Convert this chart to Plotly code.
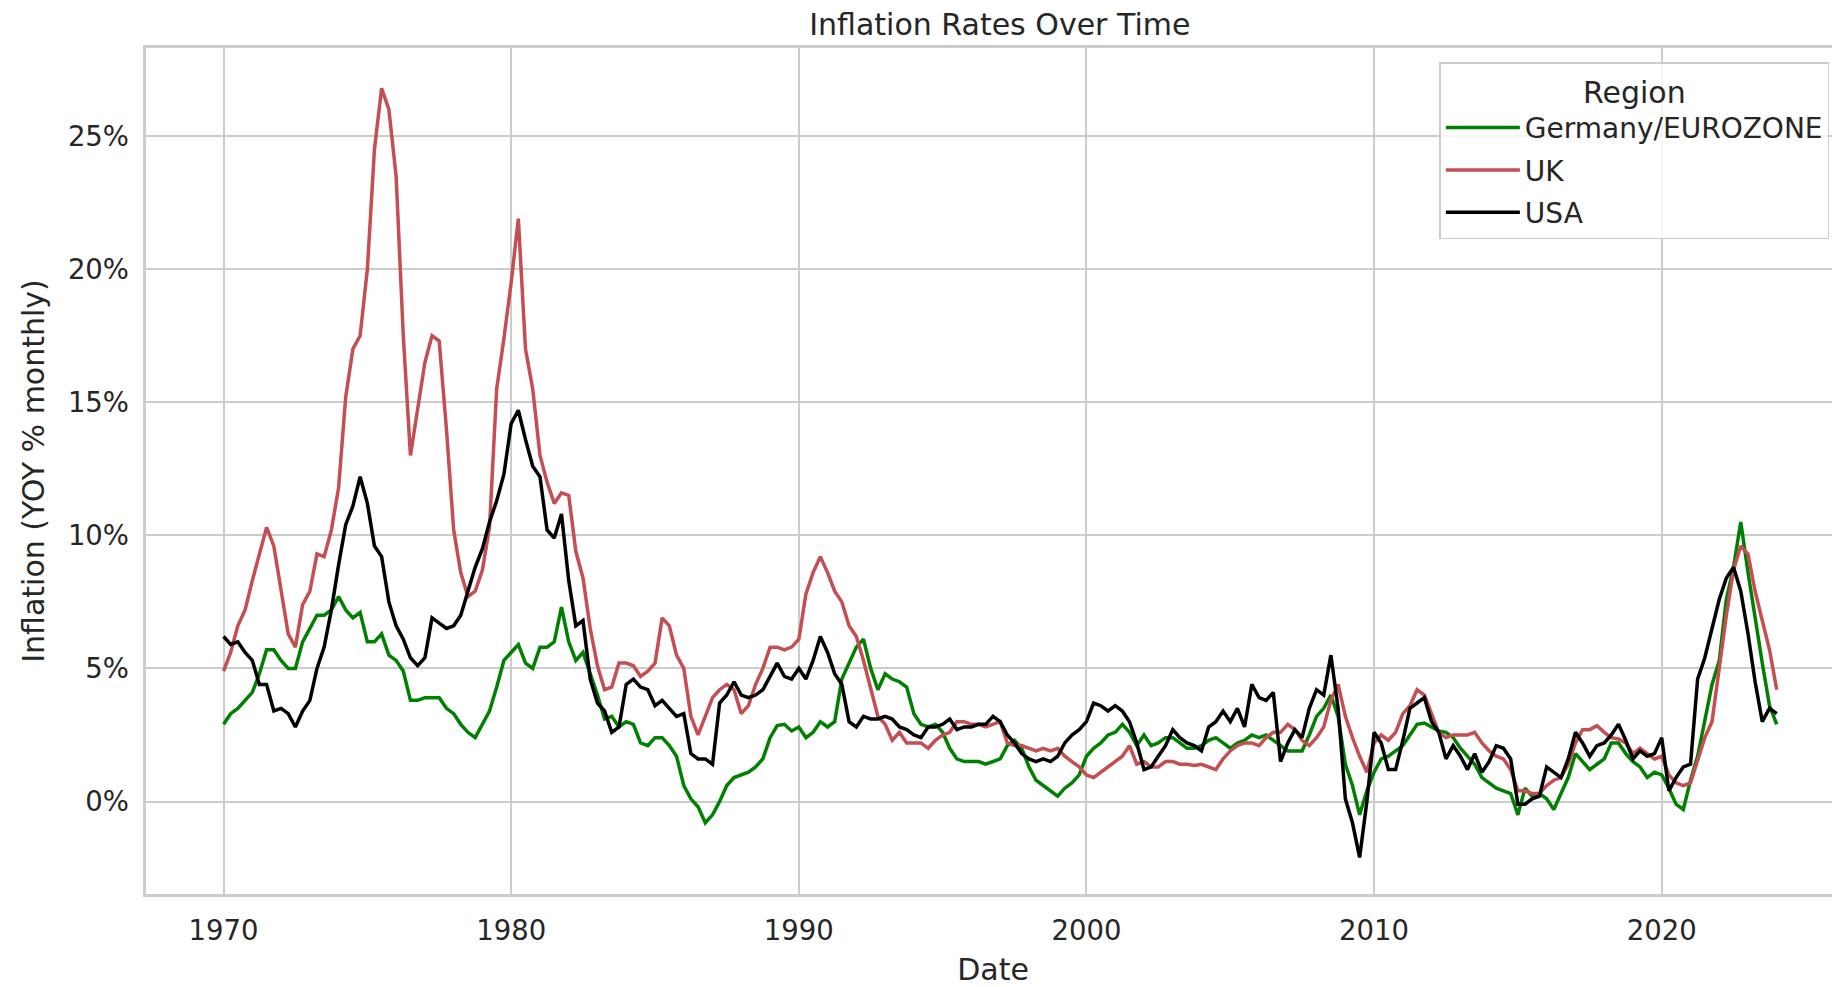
import pandas as pd
import plotly.graph_objects as go

# Quarterly sample dates, Jan 1970 .. Jan 2024
dates = pd.date_range("1970-01-01", "2024-01-01", freq="QS").strftime("%Y-%m-%d").tolist()

# Year-over-year inflation (%), 4 values per year
usa = [
    6.2, 5.9, 6.0, 5.6,   # 1970
    5.3, 4.4, 4.4, 3.4,   # 1971
    3.5, 3.3, 2.8, 3.4,   # 1972
    3.8, 5.0, 5.8, 7.2,   # 1973
    8.9, 10.4, 11.1, 12.2,  # 1974
    11.2, 9.6, 9.2, 7.5,  # 1975
    6.6, 6.1, 5.4, 5.1,   # 1976
    5.4, 6.9, 6.7, 6.5,   # 1977
    6.6, 7.0, 7.9, 8.8,   # 1978
    9.5, 10.5, 11.3, 12.3,  # 1979
    14.2, 14.7, 13.6, 12.6,  # 1980
    12.2, 10.2, 9.9, 10.8,  # 1981
    8.3, 6.6, 6.8, 4.6,   # 1982
    3.7, 3.4, 2.6, 2.8,   # 1983
    4.4, 4.6, 4.3, 4.2,   # 1984
    3.6, 3.8, 3.5, 3.2,   # 1985
    3.3, 1.8, 1.6, 1.6,   # 1986
    1.4, 3.7, 4.0, 4.5,   # 1987
    4.0, 3.9, 4.0, 4.2,   # 1988
    4.7, 5.2, 4.7, 4.6,   # 1989
    5.0, 4.6, 5.3, 6.2,   # 1990
    5.6, 4.8, 4.4, 3.0,   # 1991
    2.8, 3.2, 3.1, 3.1,   # 1992
    3.2, 3.1, 2.8, 2.7,   # 1993
    2.5, 2.4, 2.8, 2.8,   # 1994
    2.9, 3.1, 2.7, 2.8,   # 1995
    2.8, 2.9, 2.9, 3.2,   # 1996
    3.0, 2.5, 2.2, 1.8,   # 1997
    1.6, 1.5, 1.6, 1.5,   # 1998
    1.7, 2.2, 2.5, 2.7,   # 1999
    3.0, 3.7, 3.6, 3.4,   # 2000
    3.6, 3.4, 3.0, 2.2,   # 2001
    1.2, 1.3, 1.7, 2.1,   # 2002
    2.7, 2.4, 2.2, 2.1,   # 2003
    1.9, 2.8, 3.0, 3.4,   # 2004
    3.0, 3.5, 2.8, 4.4,   # 2005
    3.9, 3.8, 4.1, 1.5,   # 2006
    2.2, 2.7, 2.4, 3.5,   # 2007
    4.2, 4.0, 5.5, 3.5,   # 2008
    0.1, -0.8, -2.1, 0.0,  # 2009
    2.6, 2.2, 1.2, 1.2,   # 2010
    2.3, 3.5, 3.7, 3.9,   # 2011
    3.0, 2.6, 1.6, 2.1,   # 2012
    1.7, 1.2, 1.8, 1.1,   # 2013
    1.5, 2.1, 2.0, 1.6,   # 2014
    -0.1, -0.1, 0.1, 0.2,  # 2015
    1.3, 1.1, 0.9, 1.6,   # 2016
    2.6, 2.2, 1.7, 2.1,   # 2017
    2.2, 2.5, 2.9, 2.3,   # 2018
    1.6, 1.9, 1.7, 1.8,   # 2019
    2.4, 0.4, 0.9, 1.3,   # 2020
    1.4, 4.6, 5.4, 6.5,   # 2021
    7.6, 8.4, 8.8, 7.9,   # 2022
    6.3, 4.5, 3.0, 3.5,   # 2023
    3.3,                  # 2024
]

uk = [
    4.9, 5.6, 6.6, 7.2,   # 1970
    8.3, 9.3, 10.3, 9.6,  # 1971
    8.0, 6.3, 5.8, 7.4,   # 1972
    7.9, 9.3, 9.2, 10.2,  # 1973
    11.8, 15.2, 17.0, 17.5,  # 1974
    20.0, 24.5, 26.8, 26.0,  # 1975
    23.5, 17.5, 13.0, 14.8,  # 1976
    16.5, 17.5, 17.3, 14.0,  # 1977
    10.2, 8.6, 7.7, 7.9,  # 1978
    8.7, 10.3, 15.5, 17.4,  # 1979
    19.5, 21.9, 17.0, 15.5,  # 1980
    13.0, 12.0, 11.2, 11.6,  # 1981
    11.5, 9.4, 8.4, 6.5,  # 1982
    5.1, 4.2, 4.3, 5.2,   # 1983
    5.2, 5.1, 4.7, 4.9,   # 1984
    5.2, 6.9, 6.6, 5.5,   # 1985
    5.0, 3.2, 2.5, 3.2,   # 1986
    3.9, 4.2, 4.4, 4.2,   # 1987
    3.3, 3.6, 4.4, 5.0,   # 1988
    5.8, 5.8, 5.7, 5.8,   # 1989
    6.1, 7.8, 8.6, 9.2,   # 1990
    8.6, 7.9, 7.5, 6.6,   # 1991
    6.2, 5.3, 4.2, 3.2,   # 1992
    2.9, 2.3, 2.6, 2.2,   # 1993
    2.2, 2.2, 2.0, 2.3,   # 1994
    2.5, 2.6, 3.0, 3.0,   # 1995
    2.9, 2.9, 2.8, 2.9,   # 1996
    3.0, 2.2, 2.1, 2.1,   # 1997
    2.0, 1.9, 2.0, 1.9,   # 1998
    2.0, 1.7, 1.5, 1.3,   # 1999
    1.0, 0.9, 1.1, 1.3,   # 2000
    1.5, 1.7, 2.1, 1.4,   # 2001
    1.5, 1.3, 1.3, 1.5,   # 2002
    1.5, 1.4, 1.4, 1.35,  # 2003
    1.4, 1.3, 1.2, 1.6,   # 2004
    1.9, 2.1, 2.2, 2.2,   # 2005
    2.1, 2.4, 2.6, 2.6,   # 2006
    2.9, 2.7, 2.3, 2.1,   # 2007
    2.4, 2.8, 3.8, 4.4,   # 2008
    3.2, 2.4, 1.7, 1.1,   # 2009
    2.2, 2.5, 2.3, 2.6,   # 2010
    3.3, 3.6, 4.2, 4.0,   # 2011
    3.3, 2.6, 2.4, 2.5,   # 2012
    2.5, 2.5, 2.6, 2.2,   # 2013
    1.9, 1.7, 1.6, 1.2,   # 2014
    0.4, 0.4, 0.3, 0.3,   # 2015
    0.6, 0.8, 0.9, 1.4,   # 2016
    2.2, 2.7, 2.7, 2.85,  # 2017
    2.6, 2.4, 2.35, 2.2,  # 2018
    1.8, 2.0, 1.8, 1.6,   # 2019
    1.7, 1.0, 0.7, 0.6,   # 2020
    0.7, 1.6, 2.4, 3.0,   # 2021
    5.0, 7.0, 8.7, 9.6,   # 2022
    9.3, 7.9, 6.8, 5.7,   # 2023
    4.2,                  # 2024
]

germany = [
    2.9, 3.3, 3.5, 3.8,   # 1970
    4.1, 4.8, 5.7, 5.7,   # 1971
    5.3, 5.0, 5.0, 6.0,   # 1972
    6.5, 7.0, 7.0, 7.2,   # 1973
    7.7, 7.2, 6.9, 7.1,   # 1974
    6.0, 6.0, 6.3, 5.5,   # 1975
    5.3, 4.9, 3.8, 3.8,   # 1976
    3.9, 3.9, 3.9, 3.5,   # 1977
    3.3, 2.9, 2.6, 2.4,   # 1978
    2.9, 3.4, 4.3, 5.3,   # 1979
    5.6, 5.9, 5.2, 5.0,   # 1980
    5.8, 5.8, 6.0, 7.3,   # 1981
    6.0, 5.3, 5.6, 4.8,   # 1982
    4.0, 3.1, 3.2, 2.8,   # 1983
    3.0, 2.9, 2.2, 2.1,   # 1984
    2.4, 2.4, 2.1, 1.7,   # 1985
    0.6, 0.1, -0.2, -0.8,  # 1986
    -0.5, 0.0, 0.6, 0.9,  # 1987
    1.0, 1.1, 1.3, 1.6,   # 1988
    2.4, 2.85, 2.9, 2.65,  # 1989
    2.8, 2.4, 2.6, 3.0,   # 1990
    2.8, 3.0, 4.6, 5.2,   # 1991
    5.8, 6.1, 5.0, 4.2,   # 1992
    4.8, 4.6, 4.5, 4.3,   # 1993
    3.3, 2.9, 2.8, 2.9,   # 1994
    2.6, 2.0, 1.6, 1.5,   # 1995
    1.5, 1.5, 1.4, 1.5,   # 1996
    1.6, 2.1, 2.3, 2.0,   # 1997
    1.3, 0.8, 0.6, 0.4,   # 1998
    0.2, 0.5, 0.7, 1.0,   # 1999
    1.7, 2.0, 2.2, 2.5,   # 2000
    2.6, 2.9, 2.6, 2.1,   # 2001
    2.5, 2.1, 2.2, 2.4,   # 2002
    2.4, 2.2, 2.0, 2.0,   # 2003
    2.1, 2.3, 2.4, 2.2,   # 2004
    2.0, 2.2, 2.3, 2.5,   # 2005
    2.4, 2.5, 2.3, 2.1,   # 2006
    1.9, 1.9, 1.9, 2.5,   # 2007
    3.2, 3.5, 4.0, 3.2,   # 2008
    1.4, 0.6, -0.5, 0.4,  # 2009
    1.1, 1.6, 1.7, 1.9,   # 2010
    2.1, 2.5, 2.9, 2.95,  # 2011
    2.8, 2.65, 2.6, 2.4,  # 2012
    2.0, 1.7, 1.4, 0.9,   # 2013
    0.7, 0.5, 0.4, 0.3,   # 2014
    -0.5, 0.5, 0.2, 0.3,  # 2015
    0.1, -0.3, 0.3, 0.9,  # 2016
    1.8, 1.5, 1.2, 1.4,   # 2017
    1.6, 2.2, 2.2, 1.8,   # 2018
    1.5, 1.3, 0.9, 1.1,   # 2019
    1.0, 0.5, -0.1, -0.3,  # 2020
    0.8, 1.7, 3.0, 4.4,   # 2021
    5.3, 7.6, 8.8, 10.5,  # 2022
    8.6, 6.8, 5.2, 3.6,   # 2023
    2.9,                  # 2024
]

regions = ["Germany/EUROZONE", "UK", "USA"]
series = [germany, uk, usa]
colors = ["#008000", "#C44E52", "#000000"]

y_ticks = [0, 5, 10, 15, 20, 25]
y_labels = ["0%", "5%", "10%", "15%", "20%", "25%"]
x_ticks = ["1970-01-01", "1980-01-01", "1990-01-01", "2000-01-01", "2010-01-01", "2020-01-01"]
x_labels = ["1970", "1980", "1990", "2000", "2010", "2020"]

TEXT = "#262626"
GRID = "#cccccc"
FONT = "DejaVu Sans"

fig = go.Figure()
for name, vals, col in zip(regions, series, colors):
    fig.add_trace(go.Scatter(
        x=dates, y=vals, mode="lines", name=name, legendgroup=name,
        line=dict(color=col, width=3.5),
    ))

# the page body adds an 8px offset, so the figure is 8px smaller than the window
W, H = 1832, 979
fig.update_layout(
    width=W, height=H,
    margin=dict(l=137.5, r=0, t=40, b=93),
    paper_bgcolor="white", plot_bgcolor="white",
    font=dict(family=FONT, color=TEXT, size=27.5),
    title=dict(text="Inflation Rates Over Time", font=dict(size=30, color=TEXT),
               x=991.8 / W, xref="container", xanchor="center",
               y=1 - 16 / H, yref="container", yanchor="middle"),
    legend=dict(
        title=dict(text="Region", font=dict(size=30, color=TEXT), side="top center"),
        font=dict(size=28, color=TEXT),
        x=0.7635, xanchor="left", y=0.9831, yanchor="top",
        bgcolor="rgba(255,255,255,0.8)", bordercolor=GRID, borderwidth=1.5,
        itemwidth=74, tracegroupgap=3,
    ),
    showlegend=True,
)

fig.update_xaxes(
    type="date",
    range=["1967-04-22", "2026-03-14"],
    tickvals=x_ticks, ticktext=x_labels,
    showgrid=True, gridcolor=GRID, gridwidth=2,
    showline=True, linecolor=GRID, linewidth=3, mirror=True,
    ticks="outside", ticklen=10, tickcolor="rgba(0,0,0,0)",
    tickfont=dict(size=27.5, color=TEXT),
    title=dict(text="Date", font=dict(size=30, color=TEXT), standoff=20),
    zeroline=False,
)
fig.update_yaxes(
    range=[-3.475, 28.31],
    tickvals=y_ticks, ticktext=y_labels,
    showgrid=True, gridcolor=GRID, gridwidth=2,
    showline=True, linecolor=GRID, linewidth=3, mirror=False,
    ticks="outside", ticklen=8.5, tickcolor="rgba(0,0,0,0)",
    tickfont=dict(size=27.5, color=TEXT),
    title=dict(text="Inflation (YOY % monthly)", font=dict(size=30, color=TEXT), standoff=15),
    zeroline=False,
)

fig.write_html("out.html")
